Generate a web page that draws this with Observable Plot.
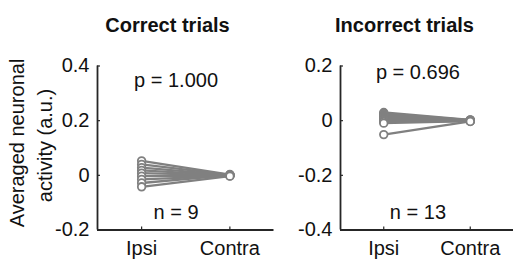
<!DOCTYPE html>
<html><head><meta charset="utf-8">
<script src="https://cdn.jsdelivr.net/npm/d3@7"></script>
<script src="https://cdn.jsdelivr.net/npm/@observablehq/plot@0.6"></script>
<style>
body{margin:0;background:#fff;}
#wrap{position:relative;width:513px;height:259px;overflow:hidden;background:#fff;}
#wrap svg{position:absolute;top:0;background:transparent;overflow:visible;}
</style></head><body><div id="wrap"></div>
<script>
const conditions = ["Ipsi", "Contra"];
const panelTitles = ["Correct trials", "Incorrect trials"];
const yLabelLines = ["Averaged neuronal", "activity (a.u.)"];
const correctIpsi = [0.053, 0.04, 0.028, 0.018, 0.008, -0.003, -0.015, -0.028, -0.042];
const correctContra = [0.003, 0.002, 0.001, 0.0, 0.0, -0.001, -0.002, 0.001, -0.003];
const incorrectIpsi = [0.03, 0.026, 0.022, 0.018, 0.015, 0.012, 0.009, 0.006, 0.003, 0.0, -0.004, -0.009, -0.051];
const incorrectContra = [0.003, 0.002, 0.002, 0.001, 0.001, 0.0, 0.0, 0.0, -0.001, -0.001, -0.002, -0.002, -0.003];
const pValues = ["p = 1.000", "p = 0.696"];
const nValues = ["n = 9", "n = 13"];
const yDomains = [[-0.2, 0.4], [-0.4, 0.2]];
const yTicks = [[-0.2, 0, 0.2, 0.4], [-0.4, -0.2, 0, 0.2]];

const FONT = '"Liberation Sans", Arial, Helvetica, sans-serif';
const AX = "#262626";
const GREY = "#808080";
const fmtY = d => d === 0 ? "0" : d.toFixed(1);

function panel(i, opts) {
  const ipsi = i === 0 ? correctIpsi : incorrectIpsi;
  const contra = i === 0 ? correctContra : incorrectContra;
  const rows = [];
  ipsi.forEach((v, k) => { rows.push({id: k, x: 1, y: v}); rows.push({id: k, x: 2, y: contra[k]}); });
  const marks = [
    Plot.ruleX([0.5], {stroke: AX, strokeWidth: 1.8}),
    Plot.ruleY([yDomains[i][0]], {stroke: AX, strokeWidth: 1.8}),
    Plot.axisY({ticks: yTicks[i], tickFormat: fmtY, label: null, tickSize: -3, tickPadding: 11, fontSize: 20, stroke: AX, fill: "#111", strokeWidth: 1.2}),
    Plot.axisX({ticks: [1, 2], tickFormat: d => conditions[d - 1], label: null, tickSize: -3, tickPadding: 14, fontSize: 20, stroke: AX, fill: "#111", strokeWidth: 1.2}),
    Plot.line(rows, {x: "x", y: "y", z: "id", stroke: GREY, strokeWidth: 2.3}),
    Plot.dot(rows, {x: "x", y: "y", r: 3.8, stroke: GREY, fill: "white", strokeWidth: 1.8}),
    Plot.text([panelTitles[i]], {frameAnchor: "top-left", dx: opts.titleDx, dy: -34.5, lineAnchor: "bottom", textAnchor: "middle", fontSize: 20, fontWeight: "bold", fill: "#111"}),
    Plot.text([pValues[i]], {x: opts.annX, y: opts.pY, lineAnchor: "bottom", textAnchor: "middle", fontSize: 20, fill: "#111"}),
    Plot.text([nValues[i]], {x: opts.annX, y: opts.nY, lineAnchor: "bottom", textAnchor: "middle", fontSize: 20, fill: "#111"})
  ];
  if (i === 0) {
    marks.push(Plot.text([yLabelLines[0]], {frameAnchor: "left", dx: -80, dy: -5, rotate: -90, lineAnchor: "middle", textAnchor: "middle", fontSize: 20, fill: "#111"}));
    marks.push(Plot.text([yLabelLines[1]], {frameAnchor: "left", dx: -52, dy: -2.5, rotate: -90, lineAnchor: "middle", textAnchor: "middle", fontSize: 20, fill: "#111"}));
  }
  const svg = Plot.plot({
    width: opts.width, height: 259,
    marginLeft: opts.marginLeft, marginRight: opts.marginRight, marginTop: 65.5, marginBottom: 29.5,
    style: {fontFamily: FONT, fontSize: "20px", background: "transparent", overflow: "visible"},
    x: {domain: [0.5, 2.5]},
    y: {domain: yDomains[i]},
    marks
  });
  svg.style.left = opts.left + "px";
  return svg;
}

const wrap = document.getElementById("wrap");
wrap.appendChild(panel(0, {width: 280, marginLeft: 97, marginRight: 6.5, left: 0, titleDx: 70, annX: 1.39, pY: 0.325, nY: -0.158}));
wrap.appendChild(panel(1, {width: 253, marginLeft: 80, marginRight: 0, left: 260, titleDx: 64, annX: 1.395, pY: 0.151, nY: -0.358}));
</script></body></html>
